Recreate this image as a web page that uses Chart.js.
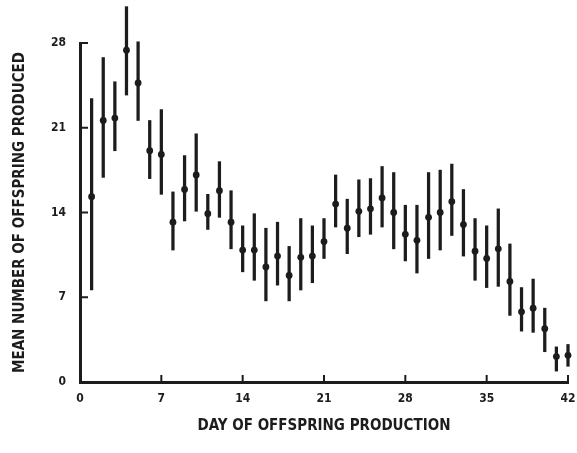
<!DOCTYPE html>
<html>
<head>
<meta charset="utf-8">
<script src="https://cdn.jsdelivr.net/npm/chart.js@4/dist/chart.umd.min.js"></script>
<style>
	html, body { margin: 0; padding: 0; background: #fff; }
	#box { width: 577px; height: 453px; }
</style>
</head>
<body>
<div id="box"><canvas id="chart"></canvas></div>
<script>
// day of offspring production
const days = [1, 2, 3, 4, 5, 6, 7, 8, 9, 10, 11, 12, 13, 14, 15, 16, 17, 18, 19, 20, 21,
	22, 23, 24, 25, 26, 27, 28, 29, 30, 31, 32, 33, 34, 35, 36, 37, 38, 39, 40, 41, 42];
// mean number of offspring produced
const means = [15.3, 21.6, 21.8, 27.4, 24.7, 19.1, 18.8, 13.2, 15.9, 17.1, 13.9, 15.8, 13.2, 10.9,
	10.9, 9.5, 10.4, 8.8, 10.3, 10.4, 11.6, 14.7, 12.7, 14.1, 14.3, 15.2, 14.0, 12.2,
	11.7, 13.6, 14.0, 14.9, 13.0, 10.8, 10.2, 11.0, 8.3, 5.8, 6.1, 4.4, 2.1, 2.2];
// error bar ends
const lows = [7.6, 16.9, 19.1, 23.7, 21.6, 16.8, 15.5, 10.9, 13.3, 14.1, 12.6, 13.6, 11.0, 9.1,
	8.4, 6.7, 8.0, 6.7, 7.6, 8.2, 10.2, 12.8, 10.6, 12.0, 12.2, 12.8, 11.0, 10.0,
	9.0, 10.2, 10.9, 12.1, 10.4, 8.4, 7.8, 7.9, 5.5, 4.2, 4.1, 2.5, 0.9, 1.3];
const highs = [23.4, 26.8, 24.8, 31.0, 28.1, 21.6, 22.5, 15.7, 18.7, 20.5, 15.5, 18.2, 15.8, 12.9,
	13.9, 12.7, 13.2, 11.2, 13.5, 12.9, 13.5, 17.1, 15.1, 16.7, 16.8, 17.8, 17.3, 14.6,
	14.6, 17.3, 17.5, 18.0, 15.9, 13.5, 12.9, 14.3, 11.4, 7.8, 8.5, 6.1, 2.9, 3.1];
const xTicks = [0, 7, 14, 21, 28, 35, 42];
const yTicks = [0, 7, 14, 21, 28];

const ink = "#1c1c1c";
const fontFamily = "'Liberation Sans Narrow', 'DejaVu Sans Condensed', 'Liberation Sans', sans-serif";

// short tick marks pointing into the plot
const innerTicks = {
	id: "innerTicks",
	afterDraw(chart) {
		const ctx = chart.ctx;
		const xScale = chart.scales.x;
		const yScale = chart.scales.y;
		ctx.save();
		ctx.strokeStyle = ink;
		ctx.lineWidth = 2;
		ctx.beginPath();
		yTicks.slice(1).forEach(v => {
			const y = yScale.getPixelForValue(v);
			ctx.moveTo(yScale.right, y);
			ctx.lineTo(yScale.right + 8, y);
		});
		xTicks.slice(1).forEach(v => {
			const x = xScale.getPixelForValue(v);
			ctx.moveTo(x, xScale.top);
			ctx.lineTo(x, xScale.top - 7);
		});
		ctx.stroke();
		ctx.restore();
	}
};

const bars = days.map((d, i) => ({ x: d, y: [lows[i], highs[i]] }));
const points = days.map((d, i) => ({ x: d, y: means[i] }));

const context = document.getElementById("chart").getContext("2d");
const chart = new Chart(context, {
	type: "scatter",
	data: {
		datasets: [
			{
				type: "bar",
				data: bars,
				backgroundColor: ink,
				borderWidth: 0,
				barThickness: 2.6,
				clip: false
			},
			{
				type: "scatter",
				data: points,
				backgroundColor: ink,
				borderWidth: 0,
				pointRadius: 3.4,
				clip: false
			}
		]
	},
	options: {
		responsive: true,
		maintainAspectRatio: false,
		animation: false,
		devicePixelRatio: 1,
		layout: {
			padding: { top: 43, right: 0, left: 0, bottom: 0 }
		},
		plugins: {
			legend: { display: false },
			tooltip: { enabled: false }
		},
		scales: {
			x: {
				type: "linear",
				offset: false,
				min: 0,
				max: 42,
				afterFit: scale => {
					scale.height = 71;
					scale.paddingLeft = 0;
					scale.paddingRight = 9;
				},
				afterBuildTicks: scale => { scale.ticks = xTicks.map(v => ({ value: v })); },
				grid: { display: false, drawTicks: false },
				border: { display: true, width: 3, color: ink },
				ticks: {
					color: ink,
					padding: 10,
					maxRotation: 0,
					font: { family: fontFamily, size: 12, weight: "bold" }
				},
				title: {
					display: true,
					text: "DAY OF OFFSPRING PRODUCTION",
					color: ink,
					padding: { top: 0, bottom: 18 },
					font: { family: fontFamily, size: 15, weight: "bold" }
				}
			},
			y: {
				min: 0,
				max: 28,
				afterFit: scale => { scale.width = 80; },
				afterBuildTicks: scale => { scale.ticks = yTicks.map(v => ({ value: v })); },
				grid: { display: false, drawTicks: false },
				border: { display: true, width: 3, color: ink },
				ticks: {
					color: ink,
					padding: 14,
					font: { family: fontFamily, size: 12, weight: "bold" }
				},
				title: {
					display: true,
					text: "MEAN NUMBER OF OFFSPRING PRODUCED",
					color: ink,
					padding: { top: 11, bottom: 0 },
					font: { family: fontFamily, size: 15, weight: "bold" }
				}
			}
		}
	},
	plugins: [innerTicks]
});
</script>
</body>
</html>
